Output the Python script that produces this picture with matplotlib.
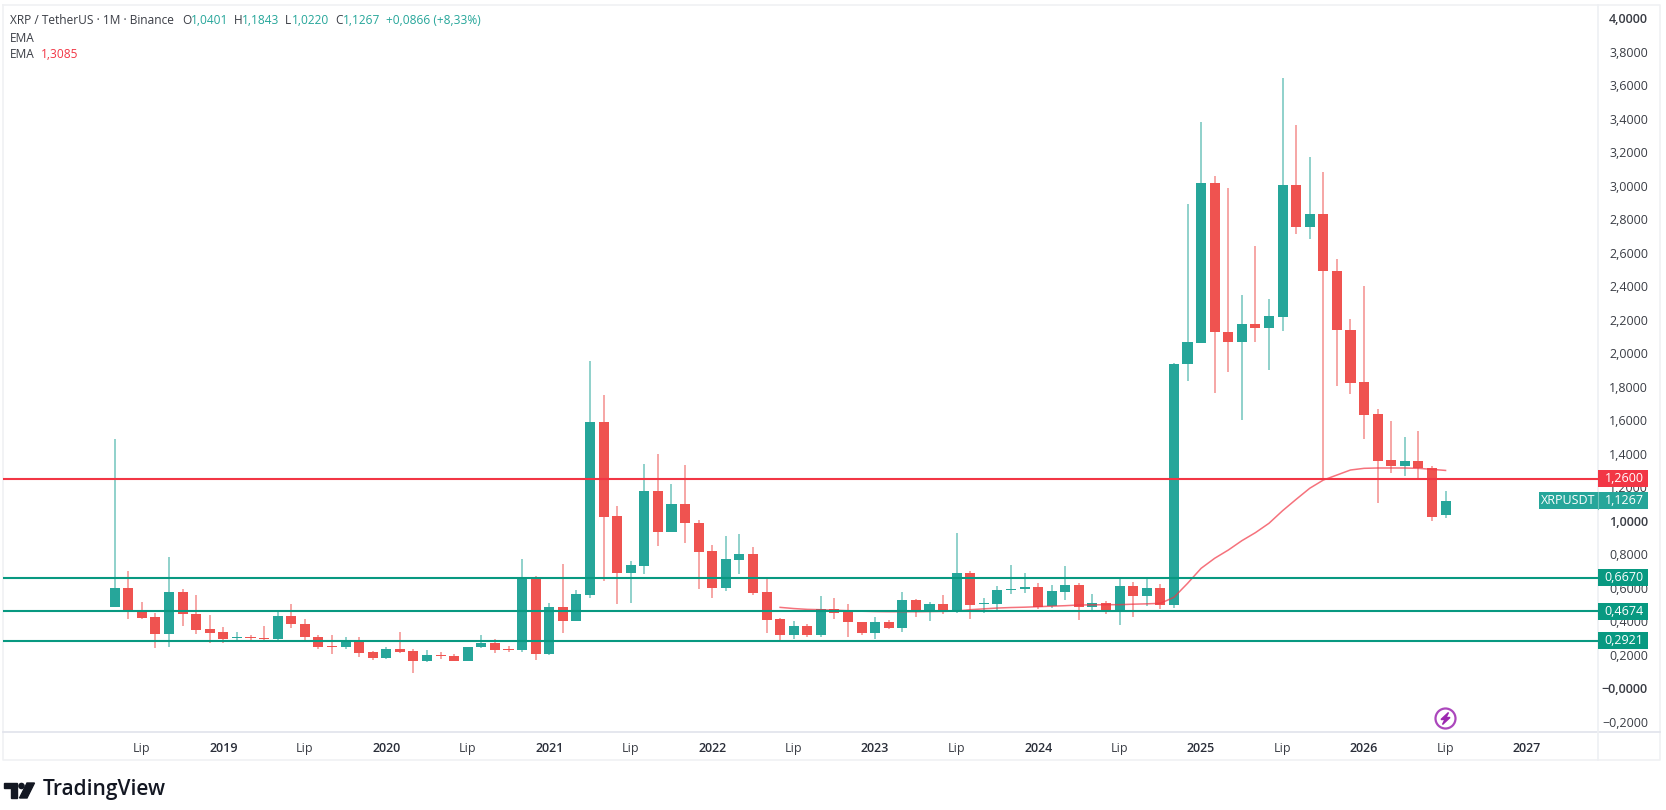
import numpy as np
import matplotlib
matplotlib.use("Agg")
import matplotlib.pyplot as plt
from matplotlib.patches import Rectangle, Circle, Polygon

plt.rcParams['font.family'] = ['Open Sans', 'DejaVu Sans']

# monthly XRP/USDT candles, May 2018 to Jul 2026
opens = [.495, .609, .463, .433, .330, .581, .451, .362, .344, .308, .314, .308, .302, .437, .392, .316, .258, .254, .296, .222,
         .187, .240, .228, .173, .207, .201, .173, .252, .276, .242, .236, .660, .215, .493, .412, .565, 1.596, 1.037, .696, .740,
         1.184, .943, 1.108, .997, .828, .609, .774, .810, .581, .422, .324, .378, .324, .479, .463, .404, .336, .404, .370, .537,
         .465, .513, .465, .696, .509, .509, .595, .601, .613, .497, .583, .625, .495, .515, .471, .619, .561, .607, .505, 1.944,
         2.071, 3.026, 2.137, 2.077, 2.183, 2.161, 2.226, 3.014, 2.764, 2.839, 2.499, 2.149, 1.836, 1.643, 1.369, 1.333, 1.365, 1.325, 1.0401]
highs = [1.496, .708, .525, .459, .794, .603, .563, .447, .376, .344, .326, .380, .475, .509, .420, .326, .324, .312, .312, .228,
         .252, .344, .244, .236, .222, .210, .256, .324, .300, .262, .778, .678, .515, .748, .595, 1.962, 1.759, 1.096, .768, 1.347,
         1.409, 1.228, 1.341, 1.013, .865, .915, .927, .849, .658, .426, .410, .392, .559, .547, .509, .406, .432, .416, .581, .539,
         .525, .563, .937, .706, .545, .617, .744, .696, .634, .625, .740, .638, .571, .531, .662, .640, .662, .630, 1.952, 2.899,
         3.389, 3.066, 2.995, 2.356, 2.648, 2.330, 3.651, 3.371, 3.180, 3.090, 2.571, 2.214, 2.412, 1.677, 1.602, 1.508, 1.546, 1.337, 1.1843]
lows = [.495, .421, .421, .246, .252, .380, .330, .280, .280, .296, .296, .292, .296, .370, .288, .244, .213, .244, .197, .177,
        .185, .219, .101, .167, .181, .171, .171, .246, .221, .226, .226, .177, .209, .340, .412, .549, .648, .511, .519, .692,
        .855, .943, .877, .599, .549, .589, .692, .565, .336, .286, .304, .316, .316, .424, .316, .328, .304, .362, .346, .435,
        .412, .449, .455, .423, .455, .471, .571, .577, .483, .489, .537, .418, .475, .451, .384, .435, .499, .481, .489, 1.844,
        2.071, 1.769, 1.898, 1.610, 2.073, 1.908, 2.143, 2.720, 2.692, 1.255, 1.815, 1.765, 1.496, 1.114, 1.295, 1.277, 1.265, 1.008, 1.0220]
closes = [.609, .463, .427, .330, .581, .451, .358, .340, .302, .314, .308, .302, .437, .392, .314, .254, .252, .288, .221, .187,
          .240, .226, .173, .207, .199, .173, .256, .276, .238, .236, .664, .215, .493, .412, .569, 1.596, 1.033, .696, .744, 1.184,
          .943, 1.108, .993, .822, .609, .778, .810, .577, .418, .324, .378, .324, .479, .455, .402, .336, .404, .370, .537, .465,
          .513, .465, .696, .505, .515, .597, .603, .613, .495, .587, .625, .495, .515, .471, .619, .561, .607, .507, 1.944, 2.077,
          3.026, 2.133, 2.077, 2.183, 2.161, 2.230, 3.014, 2.764, 2.839, 2.501, 2.145, 1.830, 1.639, 1.367, 1.333, 1.365, 1.323, 1.032, 1.1267]

# EMA only exists from month 49 on
ema_start = 49
ema = [.491, .484, .479, .477, .474, .471, .468, .466, .465, .465, .465, .466, .467, .469, .477, .482, .487, .490, .492, .495,
       .498, .501, .505, .506, .507, .507, .510, .512, .515, .551, .634, .724, .784, .833, .889, .937, .993, 1.068, 1.136, 1.202,
       1.251, 1.281, 1.311, 1.321, 1.323, 1.323, 1.323, 1.321, 1.315, 1.3085]

level_red = [1.26]
levels_green = [.667, .4674, .2921]

price_ticks = [-.2, 0, .2, .4, .6, .8, 1, 1.2, 1.4, 1.6, 1.8, 2, 2.2, 2.4, 2.6, 2.8, 3, 3.2, 3.4, 3.6, 3.8, 4]
time_idx = [2, 8, 14, 20, 26, 32, 38, 44, 50, 56, 62, 68, 74, 80, 86, 92, 98, 104]
time_txt = ['Lip', '2019', 'Lip', '2020', 'Lip', '2021', 'Lip', '2022', 'Lip', '2023', 'Lip', '2024', 'Lip', '2025', 'Lip', '2026', 'Lip', '2027']

UP = '#26a69a'
DOWN = '#ef5350'
LINE_RED = '#f23645'
LINE_GREEN = '#089981'
TXT = '#3a3d45'
W, H = 1666, 810


def fmt(v):
    return f'{v:.4f}'.replace('.', ',').replace('-', '\u2212')


fig = plt.figure(figsize=(W / 100, H / 100), dpi=100, facecolor='white')

# pixel canvas for the frame and the logo
bg = fig.add_axes([0, 0, 1, 1])
bg.set_xlim(0, W)
bg.set_ylim(H, 0)
bg.axis('off')
bg.plot([3, 3, 1660, 1660, 3], [5, 760, 760, 5, 5], color='#f0f1f3', lw=1.2)
bg.plot([3, 1660], [732, 732], color='#e0e3eb', lw=1.2)
bg.plot([1598, 1598], [5, 760], color='#eef0f3', lw=1.2)

# logo
bg.add_patch(Polygon([(4, 783), (17, 783), (17, 798), (11, 798), (11, 788), (4, 788)], color='#131722'))
bg.add_patch(Circle((21.5, 786), 2.6, color='#131722'))
bg.add_patch(Polygon([(27, 783), (34.5, 783), (27, 798), (19.5, 798)], color='#131722'))
bg.text(43, 790, 'TradingView', fontsize=15, fontweight='semibold', color='#131722', va='center', ha='left')

# price chart
x0 = 114.7
step = 13.58
y0 = 689.6
k = 167.5
ax = fig.add_axes([3 / W, (H - 732) / H, 1595 / W, 727 / H])
ax.patch.set_alpha(0)
ax.set_xlim((3 - x0) / step, (1598 - x0) / step)
ax.set_ylim((y0 - 732) / k, (y0 - 5) / k)
for s in ax.spines.values():
    s.set_visible(False)

x = np.arange(len(opens))
o = np.array(opens)
c = np.array(closes)
colors = [UP if c[i] >= o[i] else DOWN for i in x]

ax.vlines(x, lows, highs, colors=colors, lw=1.1, alpha=.65, zorder=2)
ax.bar(x, np.abs(c - o), bottom=np.minimum(o, c), width=.74, color=colors, zorder=3, linewidth=0)

ax.plot(np.arange(ema_start, ema_start + len(ema)), ema, color=LINE_RED, lw=1.1, alpha=.7, zorder=4)

for v in level_red:
    ax.axhline(v, color=LINE_RED, lw=1.5, zorder=4)
for v in levels_green:
    ax.axhline(v, color=LINE_GREEN, lw=1.5, zorder=4)

ax.set_yticks([])
ax.set_xticks(time_idx)
ax.set_xticklabels(time_txt, fontsize=9, color=TXT)
ax.tick_params(axis='x', length=0, pad=7)
for lab, t in zip(ax.get_xticklabels(), time_txt):
    if t != 'Lip':
        lab.set_fontweight('semibold')
        lab.set_color('#2a2e39')

# right price scale, x in pixels
ar = fig.add_axes([1598 / W, (H - 732) / H, 62 / W, 727 / H])
ar.patch.set_alpha(0)
ar.set_xlim(1598, 1660)
ar.set_ylim(ax.get_ylim())
for s in ar.spines.values():
    s.set_visible(False)
ar.set_xticks([])
ar.set_yticks([])
for v in price_ticks:
    whole = v in (-0.0, 0, 1, 4)
    ar.text(1648, v, fmt(-0.0 if v == 0 else v), ha='right', va='center', fontsize=9, color=TXT,
            fontweight='semibold' if whole else 'normal', zorder=2)


def tag(v, color, left=1598):
    ar.add_patch(Rectangle((left, v - 8.5 / k), 1648 - left, 17 / k, color=color, zorder=5, clip_on=False, linewidth=0))
    ar.text(1624, v, fmt(v), ha='center', va='center', fontsize=9, color='white', zorder=6)


for v in level_red:
    tag(v, LINE_RED)
for v in levels_green:
    tag(v, LINE_GREEN)

# last price tag reaches into the chart
tag(closes[-1], UP, left=1539)
ar.text(1568, closes[-1], 'XRPUSDT', ha='center', va='center', fontsize=9, color='white', zorder=6, clip_on=False)
ar.plot([1598, 1598], [closes[-1] - 8.5 / k, closes[-1] + 8.5 / k], color='#6cc4bb', lw=.8, zorder=6, clip_on=False)

# dividends marker
over = fig.add_axes([0, 0, 1, 1])
over.set_xlim(0, W)
over.set_ylim(H, 0)
over.axis('off')
over.add_patch(Circle((1445.5, 718.5), 10, fill=False, ec='#ab47bc', lw=1.6))
over.add_patch(Polygon([(1448.5, 712.5), (1441, 719.5), (1445, 719.5), (1442.5, 724.5), (1450, 717.5), (1446, 717.5)], color='#9c27b0'))

# legend in the top corner
def head(px, py, s, color=TXT):
    over.text(px, py, s, fontsize=8.6, color=color, va='center', ha='left')


head(10, 21, 'XRP / TetherUS \u00b7 1M \u00b7 Binance')
ohlc = [('O', 182, 191, opens[-1]), ('H', 234, 242, highs[-1]), ('L', 285, 292, lows[-1]), ('C', 335, 343, closes[-1])]
for name, px, qx, v in ohlc:
    head(px, 21, name)
    head(qx, 21, fmt(v), UP)
head(386, 21, '+0,0866 (+8,33%)', UP)
head(10, 38, 'EMA')
head(10, 55, 'EMA')
head(41, 55, fmt(ema[-1]), LINE_RED)

fig.savefig('out.png', dpi=100)
